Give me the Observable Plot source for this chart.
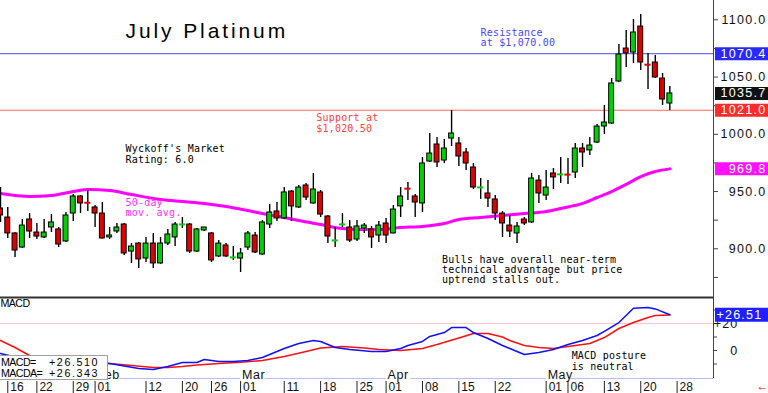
<!DOCTYPE html>
<html><head><meta charset="utf-8">
<script src="https://cdn.jsdelivr.net/npm/d3@7"></script>
<script src="https://cdn.jsdelivr.net/npm/@observablehq/plot@0.6"></script>
<style>
body{margin:0;background:#fff;}
#wrap{position:relative;width:768px;height:393px;overflow:hidden;font-family:"Liberation Sans",Arial,sans-serif;}
#wrap svg{display:block;overflow:visible;}
#legend{position:absolute;left:-1px;top:355px;width:107px;height:23px;background:#fff;border:1px solid #a0a0a0;font-size:10.7px;color:#000;}
#legend .row{position:absolute;left:1px;height:11px;line-height:11px;white-space:pre;}
#legend .lab{position:absolute;left:0;letter-spacing:-0.6px;}
#legend .val{position:absolute;left:48px;letter-spacing:1.6px;}
text[aria-label="title"]{letter-spacing:2.9px;}
text[aria-label="note"]{letter-spacing:0.2px;}
text[aria-label="ylab"]{letter-spacing:1.3px;}
text[aria-label="boxlab"]{letter-spacing:1.2px;}
text[aria-label="mlab"]{letter-spacing:0.5px;}
text[aria-label="macdname"]{letter-spacing:-0.6px;}
</style></head>
<body>
<div id="wrap">
  <div id="main"></div>
  <div id="macd"></div>
  <div id="dates"></div>
  <div id="legend">
    <div class="row" style="top:1px"><span class="lab">MACD=</span><span class="val" id="lv1"></span></div>
    <div class="row" style="top:12px"><span class="lab">MACDA=</span><span class="val" id="lv2"></span></div>
  </div>
</div>
<script>
// ---------------- data ----------------
const dates = ["Jan 12","Jan 16","Jan 17","Jan 18","Jan 19","Jan 22","Jan 23","Jan 24","Jan 25","Jan 26","Jan 29","Jan 30","Jan 31",
"Feb 1","Feb 2","Feb 5","Feb 6","Feb 7","Feb 8","Feb 9","Feb 12","Feb 13","Feb 14","Feb 15","Feb 16","Feb 20","Feb 21","Feb 22","Feb 23","Feb 26","Feb 27","Feb 28","Feb 29",
"Mar 1","Mar 4","Mar 5","Mar 6","Mar 7","Mar 8","Mar 11","Mar 12","Mar 13","Mar 14","Mar 15","Mar 18","Mar 19","Mar 20","Mar 21","Mar 22","Mar 25","Mar 26","Mar 27","Mar 28",
"Apr 1","Apr 2","Apr 3","Apr 4","Apr 5","Apr 8","Apr 9","Apr 10","Apr 11","Apr 12","Apr 15","Apr 16","Apr 17","Apr 18","Apr 19","Apr 22","Apr 23","Apr 24","Apr 25","Apr 26","Apr 29","Apr 30",
"May 1","May 2","May 3","May 6","May 7","May 8","May 9","May 10","May 13","May 14","May 15","May 16","May 17","May 20","May 21","May 22","May 23","May 24"];
const futureDays = ["May 28","May 29","May 30","May 31","Jun 3","Jun 4"];

const open = [935.2,927.3,913.4,901.1,925.6,914.2,909.9,918.6,916.9,906.4,930.8,945.7,940.6,
936.1,930.8,909.9,915.1,921.2,897.6,904.6,891.5,904.6,887.2,904.6,909.9,921.0,921.2,897.6,916.0,913.4,893.3,902.9,892.3,
891.5,901.1,911.6,895.0,921.2,932.6,926.5,950.0,936.1,955.3,939.6,949.2,928.2,907.1,921.1,918.6,908.1,917.7,916.9,911.6,
922.1,913.4,937.0,952.9,945.7,939.6,976.2,991.1,977.1,996.3,992.0,984.1,971.0,953.4,948.3,943.1,930.8,920.3,913.4,925.6,923.0,959.6,
946.5,965.8,964.8,965.0,966.6,987.6,985.9,992.8,1006.8,1009.4,1046.1,1074.9,1071.4,1094.1,1061.2,1062.7,1048.7,1026.9];
const high = [953.5,936.1,914.0,925.6,930.8,922.1,925.6,929.9,918.6,931.7,947.4,946.5,950.9,
937.8,940.4,918.6,922.1,922.1,904.6,905.5,909.9,913.4,909.9,916.9,923.0,927.3,922.1,917.7,918.8,914.2,907.2,904.6,902.0,
900.3,915.1,914.2,924.7,938.7,940.4,953.5,950.9,955.3,957.0,965.8,950.9,929.1,918.6,930.8,924.7,924.7,922.1,919.5,923.8,
926.5,937.8,953.5,957.9,947.4,979.7,1000.7,997.2,995.5,1020.8,997.2,987.6,974.5,961.4,959.6,946.5,932.6,929.1,923.0,927.3,965.8,964.0,
968.4,970.1,979.7,978.9,992.0,992.0,997.2,1008.6,1025.2,1048.7,1078.4,1090.7,1100.3,1104.6,1070.6,1068.8,1053.1,1041.8];
const low = [923.0,909.0,892.4,900.3,909.0,908.1,909.0,914.2,901.1,905.5,923.8,930.8,932.6,
918.6,908.5,908.1,913.4,894.2,887.2,882.8,888.0,882.8,886.5,902.9,902.0,917.7,895.9,896.8,915.1,888.0,892.4,892.4,889.8,
879.3,898.5,895.9,894.2,917.7,923.8,925.6,923.8,935.2,942.2,939.0,927.3,904.6,901.1,918.6,905.5,906.4,913.4,900.3,905.5,
904.6,913.0,927.3,942.2,927.3,931.7,975.4,971.0,974.5,989.4,971.9,968.4,951.8,943.1,936.1,924.7,909.9,909.9,904.6,920.3,922.1,939.6,
942.2,951.8,957.0,956.1,961.4,971.0,981.5,992.0,999.8,1008.6,1045.3,1058.3,1061.8,1055.7,1039.1,1048.7,1025.2,1020.8];
const close = [929.1,913.4,898.5,920.3,915.1,910.7,914.2,923.0,903.7,929.1,945.7,939.6,940.2,
930.8,909.0,911.6,918.6,895.9,902.0,890.7,904.6,887.2,904.6,912.5,921.2,921.3,897.6,916.9,918.6,889.8,904.6,893.3,892.5,
895.9,913.4,896.8,923.0,931.7,926.5,949.2,937.0,953.5,944.8,951.8,929.9,910.7,907.3,921.3,907.2,919.5,920.3,909.9,920.3,
911.6,934.3,945.7,952.5,940.4,974.5,983.2,975.4,987.6,1000.7,980.6,974.5,953.5,953.6,943.9,930.8,922.1,915.1,919.5,922.1,961.4,948.3,
953.5,962.3,965.0,964.8,987.6,984.1,990.2,1006.8,1010.3,1044.4,1069.7,1070.6,1088.9,1062.7,1060.8,1049.6,1030.4,1035.7];

// 50-day moving average (sampled)
const maDates  = ["Jan 12","Jan 19","Jan 24","Jan 29","Jan 31","Feb 5","Feb 8","Feb 14","Feb 20","Feb 23","Feb 28","Mar 4","Mar 6","Mar 11","Mar 13","Mar 18","Mar 21","Mar 25","Mar 28","Apr 3","Apr 8","Apr 11","Apr 15","Apr 18","Apr 23","Apr 26","May 1","May 3","May 8","May 10","May 14","May 16","May 20","May 22","May 24"];
const maValues = [948.3,945.7,946.6,950.0,951.8,950.9,947.4,943.1,941.3,939.6,937.0,933.4,930.8,927.3,924.7,921.2,917.7,916.9,916.9,918.6,919.5,922.1,925.6,927.3,929.1,930.8,932.6,935.2,939.6,944.8,950.0,956.2,963.1,967.5,969.8];

// MACD (blue) and MACDA signal (red)
const macdDates  = ["Jan 12","Jan 19","Jan 25","Jan 31","Feb 5","Feb 7","Feb 9","Feb 13","Feb 15","Feb 20","Feb 22","Feb 23","Feb 27","Feb 29","Mar 4","Mar 6","Mar 7","Mar 11","Mar 13","Mar 15","Mar 18","Mar 20","Mar 22","Mar 27","Apr 1","Apr 3","Apr 4","Apr 8","Apr 9","Apr 11","Apr 12","Apr 16","Apr 17","Apr 19","Apr 23","Apr 24","Apr 26","Apr 30","May 2","May 6","May 8","May 10","May 13","May 15","May 17","May 21","May 22","May 24"];
const macdValues = [-2.2,-7.4,-10.4,-9.6,-9.6,-11.5,-13.3,-14.1,-11.9,-8.9,-8.9,-6.7,-8.1,-8.1,-7.4,-5.2,-3.0,1.5,5.2,7.4,6.7,2.2,0.7,-0.7,-0.7,1.5,3.7,6.7,10.4,13.3,17.0,17.0,13.3,8.9,3.7,1.5,-3.0,-1.5,0.7,4.4,7.4,11.1,14.1,20.7,31.3,31.9,30.8,26.51];
const sigDates  = ["Jan 12","Jan 17","Jan 19","Jan 24","Jan 29","Feb 1","Feb 5","Feb 8","Feb 13","Feb 15","Feb 20","Feb 22","Feb 27","Mar 1","Mar 6","Mar 11","Mar 14","Mar 18","Mar 21","Mar 26","Mar 28","Apr 3","Apr 8","Apr 10","Apr 15","Apr 17","Apr 19","Apr 23","Apr 24","Apr 26","Apr 30","May 2","May 6","May 9","May 13","May 15","May 17","May 21","May 22","May 24"];
const sigValues = [7.4,2.2,-3.7,-6.7,-8.1,-8.9,-9.6,-11.1,-12.6,-12.6,-11.9,-10.7,-9.6,-8.7,-7.4,-4.4,-0.7,1.9,3.0,1.9,0.7,0.0,1.5,4.4,9.3,12.6,12.6,10.0,7.4,3.7,2.2,1.5,3.0,5.2,9.6,16.3,20.7,24.4,25.9,26.343];

// axis labels
const priceTicks = [900, 950, 1000, 1050, 1100];
const tickDays   = ["Jan 16","Jan 22","Jan 29","Feb 1","Feb 12","Feb 20","Feb 26","Mar 1","Mar 11","Mar 18","Mar 25","Apr 1","Apr 8","Apr 15","Apr 22","May 1","May 6","May 13","May 20","May 28"];
const tickLabels = ["16","22","29","01","12","20","26","01","11","18","25","01","08","15","22","01","06","13","20","28"];
const monthDays  = ["Feb 1","Mar 1","Apr 1","May 1"];
const monthNames = ["Feb","Mar","Apr","May"];
const macdTicks  = [0, 20];

// level labels
const resistance = 1070.4, lastClose = 1035.7, support = 1021.0, maLast = 969.8;
const macdLast = 26.51, macdFull = 26.510, sigFull = 26.343;

// ---------------- build ----------------
const GREEN = "#00d000", RED = "#e00000";
const allDays = dates.concat(futureDays);
const xMax = allDays.length - 1;
const idx = d => allDays.indexOf(d);
const fmt1 = d3.format(".1f");
const MONO = "'DejaVu Sans Mono', monospace";
const SANS = "'Liberation Sans', Arial, sans-serif";
const tag = s => () => s;

const candles = dates.map((d, i) => ({i, open: open[i], high: high[i], low: low[i], close: close[i]}));
const isDoji = c => Math.abs(c.close - c.open) < 0.6;
const bodies = candles.filter(c => !isDoji(c));
const dojis = candles.filter(isDoji);
const ma = maDates.map((d, k) => ({x: idx(d), y: maValues[k]}));
const macd = macdDates.map((d, k) => ({x: idx(d), y: macdValues[k]}));
const sig = sigDates.map((d, k) => ({x: idx(d), y: sigValues[k]}));

const levels = [
  {v: resistance, c: "#2828ff"},
  {v: lastClose, c: "#111111"},
  {v: support, c: "#ff2a2a"},
  {v: maLast, c: "#ff10ff"}
];

function note(t, x, y, color) {
  return Plot.text([t], {x: () => x, y: () => y, text: d => d, fill: color, fontFamily: MONO, fontSize: 10,
    textAnchor: "start", lineAnchor: "middle", lineHeight: 1.02, ariaLabel: tag("note")});
}

const yMain = [858.33, 1116.86];
const main = Plot.plot({
  width: 768, height: 296, marginLeft: 0, marginRight: 55, marginTop: 0, marginBottom: 0,
  x: {domain: [0, xMax], axis: null},
  y: {domain: yMain, axis: null},
  color: {type: "identity"},
  style: {fontFamily: SANS, background: "#fff", overflow: "visible"},
  marks: [
    Plot.ruleY([resistance], {stroke: "#7070ff", strokeWidth: 1.2}),
    Plot.ruleY([support], {stroke: "#ff6464", strokeWidth: 1.2}),
    Plot.line(ma, {x: "x", y: "y", stroke: "#ff00ff", strokeWidth: 3, curve: "monotone-x"}),
    Plot.ruleX(candles, {x: "i", y1: "low", y2: "high", stroke: "#000", strokeWidth: 1.4}),
    Plot.rectY(bodies, {x1: d => d.i - 0.34, x2: d => d.i + 0.34, y1: "open", y2: "close",
      fill: d => d.close >= d.open ? GREEN : RED, stroke: "#000", strokeWidth: 1}),
    Plot.ruleY(dojis, {y: "close", x1: d => d.i - 0.42, x2: d => d.i + 0.42,
      stroke: d => d.close >= d.open ? GREEN : RED, strokeWidth: 2}),
    Plot.ruleX([xMax], {stroke: "#444", strokeWidth: 1}),
    Plot.axisY({anchor: "right", ticks: d3.range(875, 1116, 25), tickSize: 4, tickFormat: () => "", label: null, stroke: "#444"}),
    Plot.text(priceTicks, {y: d => d, text: d => fmt1(d), frameAnchor: "right", dx: 53, textAnchor: "end",
      fontSize: 12.5, fill: "#111", ariaLabel: tag("ylab")}),
    Plot.ruleY(levels, {y: "v", x1: () => xMax + 0.27, x2: () => xMax + 7.6, stroke: "c", strokeWidth: 13}),
    Plot.text(levels, {y: "v", text: d => fmt1(d.v), frameAnchor: "right", dx: 53, textAnchor: "end",
      fontSize: 12.5, fill: "#fff", ariaLabel: tag("ylab")}),
    Plot.text(["July Platinum"], {x: () => 17.18, y: () => 1090.2, text: d => d, textAnchor: "start",
      lineAnchor: "middle", fontSize: 21, fill: "#000", fontFamily: SANS, ariaLabel: tag("title")}),
    note("Resistance\nat $1,070.00", 65.97, 1084.1, "#4848ff"),
    note("Support at\n$1,020.50", 43.4, 1009.7, "#ff4040"),
    note("Wyckoff's Market\nRating: 6.0", 17.18, 982.6, "#000"),
    note("50-day\nmov. avg.", 17.18, 935.6, "#ff30ff"),
    note("Bulls have overall near-term\ntechnical advantage but price\nuptrend stalls out.", 60.7, 881.7, "#000")
  ]
});
document.getElementById("main").append(main);

const yMacd = [-20.74, 40];
const monthIdx = monthDays.map(idx);
const segs = [{x1: 0, x2: monthIdx[0]}].concat(monthIdx.map((m, k) => ({x1: m + 3.4, x2: k + 1 < monthIdx.length ? monthIdx[k + 1] : xMax})));
const macdPlot = Plot.plot({
  width: 768, height: 82, marginLeft: 0, marginRight: 55, marginTop: 0, marginBottom: 0,
  x: {domain: [0, xMax], axis: null},
  y: {domain: yMacd, axis: null},
  style: {fontFamily: SANS, background: "#fff", overflow: "visible"},
  marks: [
    Plot.ruleY([20], {stroke: "#ffc8c8", strokeWidth: 1.2}),
    Plot.ruleY(segs, {y: () => yMacd[0], x1: "x1", x2: "x2", stroke: "#b8bcff", strokeWidth: 1.2}),
    Plot.line(sig, {x: "x", y: "y", stroke: "#ff1010", strokeWidth: 1.5}),
    Plot.line(macd, {x: "x", y: "y", stroke: "#1010ff", strokeWidth: 1.5}),
    Plot.ruleY([yMacd[1]], {stroke: "#333", strokeWidth: 2, dy: 1}),
    Plot.ruleX([xMax], {stroke: "#444"}),
    Plot.axisY({anchor: "right", ticks: [-10, 0, 10, 20, 30], tickSize: 3, tickFormat: () => "", label: null, stroke: "#444"}),
    Plot.text(macdTicks, {y: d => d, text: d => d > 0 ? "+" + d : String(d), frameAnchor: "right", dx: 25,
      textAnchor: "end", fontSize: 12.5, fill: "#111", ariaLabel: tag("boxlab")}),
    Plot.ruleY([macdLast], {x1: () => xMax + 0.27, x2: () => xMax + 7.6, stroke: "#2020ff", strokeWidth: 14}),
    Plot.text([macdLast], {y: d => d, text: d => "+" + d.toFixed(2), frameAnchor: "right", dx: 3,
      textAnchor: "start", fontSize: 12.5, fill: "#fff", ariaLabel: tag("boxlab")}),
    Plot.text(monthDays, {x: d => idx(d), y: () => yMacd[0], text: (d, i) => monthNames[i], dx: 1.5, dy: 0,
      textAnchor: "start", lineAnchor: "bottom", fontSize: 12.5, fill: "#111", ariaLabel: tag("mlab")}),
    Plot.text(["MACD"], {x: () => 0, y: () => 34.4, text: d => d, textAnchor: "start", lineAnchor: "middle",
      fontSize: 10.7, fill: "#000", ariaLabel: tag("macdname")}),
    note("MACD posture\nis neutral", 78.5, -8.0, "#000")
  ]
});
document.getElementById("macd").append(macdPlot);

const datePlot = Plot.plot({
  width: 768, height: 15, marginLeft: 0, marginRight: 55, marginTop: 3, marginBottom: 0,
  x: {domain: [0, xMax], axis: null},
  style: {fontFamily: SANS, background: "#fff", overflow: "visible"},
  marks: [
    Plot.tickX(tickDays, {x: d => idx(d), stroke: "#222", strokeWidth: 1}),
    Plot.text(tickDays, {x: d => idx(d), text: (d, i) => tickLabels[i], frameAnchor: "middle", dy: 0, dx: 2.5,
      textAnchor: "start", fontSize: 12, fill: "#111"}),
    Plot.text(["\u2190"], {frameAnchor: "right", dx: 43, dy: -1, text: d => d, textAnchor: "start",
      fontSize: 12, fontWeight: "bold", fill: "#ff0000"})
  ]
});
document.getElementById("dates").append(datePlot);

document.getElementById("lv1").textContent = "+" + macdFull.toFixed(3);
document.getElementById("lv2").textContent = "+" + sigFull.toFixed(3);
</script>
</body></html>
